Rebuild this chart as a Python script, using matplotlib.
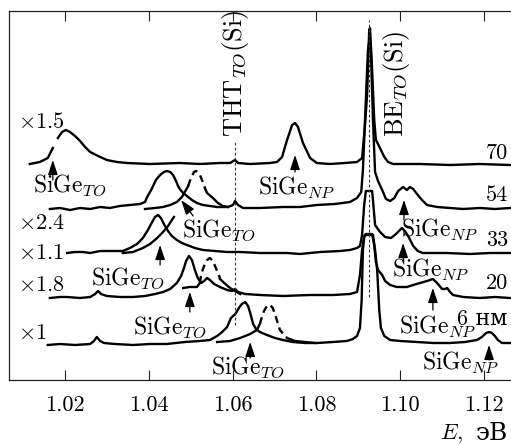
#!/usr/bin/env python3
import numpy as np
import matplotlib
matplotlib.use('Agg')
from matplotlib import pyplot as plt

plt.rcParams['font.family'] = ['cmr10', 'DejaVu Serif']
plt.rcParams['mathtext.fontset'] = 'cm'
plt.rcParams['axes.formatter.use_mathtext'] = True

nan = np.nan

# photon energy (eV) and PL intensity (arb. units above each baseline)
e70 = [1.0116, 1.0140, 1.0159, 1.0171, nan, 1.0183, 1.0193, 1.0202, 1.0212, 1.0224,
       1.0236, 1.0248, 1.0260, 1.0279, 1.0300, 1.0324, 1.0348, 1.0403, 1.0474, 1.0522,
       1.0570, 1.0594, 1.0606, 1.0613, 1.0642, 1.0689, 1.0706, 1.0718, 1.0730, 1.0742,
       1.0749, 1.0756, 1.0768, 1.0785, 1.0801, 1.0832, 1.0868, 1.0897, 1.0909, 1.0916,
       1.0921, 1.0926, 1.0928, 1.0933, 1.0938, 1.0942, 1.0947, 1.0954, 1.0962, 1.0971,
       1.0983, 1.1047, 1.1119, 1.1190, 1.1262]
i70 = [0, 2, 6, 16, nan, 26, 32, 34, 32, 28,
       23, 17, 12, 8, 4, 2, 1, 0, 1, 0,
       1, 1, 4, 1, 0, 1, 2, 7, 24, 39,
       41, 37, 21, 6, 1, 0, 1, 2, 6, 39,
       69, 134, 136, 94, 44, 24, 20, 14, 7, 2,
       0, 0, -1, 0, -1]

e54 = [1.0164, 1.0188, 1.0212, 1.0236, 1.0260, 1.0284, 1.0307, 1.0331, 1.0355, 1.0379,
       1.0391, 1.0396, 1.0403, 1.0408, 1.0417, 1.0427, 1.0436, 1.0443, 1.0451, 1.0458,
       1.0465, 1.0470, 1.0474, 1.0482, 1.0491, 1.0503, 1.0515, 1.0529, 1.0546, 1.0563,
       1.0589, 1.0601, 1.0606, 1.0613, 1.0625, 1.0665, 1.0720, 1.0761, 1.0801, 1.0844,
       1.0880, 1.0897, 1.0907, 1.0911, 1.0918, 1.0923, 1.0927, 1.0930, 1.0935, 1.0940,
       1.0947, 1.0957, 1.0966, 1.0976, 1.0986, 1.0995, 1.1007, 1.1016, 1.1023, 1.1031,
       1.1040, 1.1052, 1.1064, 1.1088, 1.1119, 1.1150, 1.1190, 1.1226, 1.1262]
i54 = [-1, 0, -2, 0, -1, 1, 0, 2, 3, 4,
       6, 11, 16, 20, 28, 33, 36, 37, 36, 33,
       27, 22, 19, 15, 12, 8, 5, 3, 2, 1,
       1, 3, 7, 3, 0, 0, 1, 1, 3, 4,
       6, 10, 16, 38, 108, 158, 170, 158, 88, 36,
       27, 18, 9, 7, 10, 17, 21, 18, 21, 19,
       14, 8, 3, 1, 0, -1, 0, -1, 0]
e54b = [1.0391, 1.0415, 1.0434, 1.0451, 1.0467, 1.0479, 1.0486, 1.0494, 1.0498, 1.0503,
        1.0508, 1.0513, 1.0517, 1.0522, 1.0529, 1.0534, 1.0539, 1.0553, 1.0565, 1.0577,
        1.0589]
i54b = [-1, 0, 1, 3, 6, 11, 16, 22, 27, 32,
        36, 37, 36, 33, 26, 20, 15, 10, 5, 2,
        1]

e33 = [1.0205, 1.0224, 1.0243, 1.0260, 1.0284, 1.0307, 1.0338, 1.0355, 1.0372, 1.0386,
       1.0398, 1.0408, 1.0415, 1.0422, 1.0429, 1.0436, 1.0446, 1.0455, 1.0467, 1.0479,
       1.0491, 1.0510, 1.0529, 1.0558, 1.0587, 1.0618, 1.0665, 1.0730, 1.0761, 1.0809,
       1.0856, 1.0880, 1.0897, 1.0904, 1.0909, 1.0914, 1.0918, 1.0933, 1.0936, 1.0940,
       1.0952, 1.0964, 1.0978, 1.0990, 1.1004, 1.1011, 1.1019, 1.1031, 1.1042, 1.1054,
       1.1112, 1.1167, 1.1214, 1.1262]
i33 = [0, 1, 1, 0, 2, 2, 2, 5, 9, 15,
       23, 31, 36, 38, 35, 29, 22, 17, 13, 10,
       8, 5, 3, 2, 1, 1, 0, 0, -1, 1,
       2, 3, 5, 7, 18, 48, 62, 62, 48, 28,
       21, 16, 15, 19, 25, 22, 17, 7, 2, 0,
       0, -1, 0, 0]
e33b = [1.0338, 1.0362, 1.0386, 1.0403, 1.0420, 1.0434, 1.0446, 1.0455, 1.0460]
i33b = [0, 1, 5, 9, 15, 21, 27, 33, 36]

e20 = [1.0164, 1.0188, 1.0205, 1.0236, 1.0260, 1.0272, 1.0279, 1.0286, 1.0300, 1.0331,
       1.0362, 1.0391, 1.0415, 1.0434, 1.0451, 1.0467, 1.0477, 1.0484, 1.0489, 1.0496,
       1.0503, 1.0510, 1.0517, 1.0525, 1.0532, 1.0539, 1.0546, 1.0556, 1.0570, 1.0587,
       1.0599, 1.0606, 1.0613, 1.0630, 1.0665, 1.0720, 1.0785, 1.0840, 1.0880, 1.0897,
       1.0904, 1.0909, 1.0914, 1.0918, 1.0933, 1.0938, 1.0942, 1.0947, 1.0957, 1.0964,
       1.0976, 1.0992, 1.1016, 1.1031, 1.1047, 1.1064, 1.1071, 1.1078, 1.1088, 1.1100,
       1.1107, 1.1112, 1.1119, 1.1126, 1.1150, 1.1190, 1.1226, 1.1262]
i20 = [-1, 0, 0, -1, 0, 3, 6, 3, 1, 0,
       0, 1, 3, 5, 8, 14, 21, 29, 36, 41,
       37, 27, 19, 14, 16, 19, 17, 13, 10, 7,
       6, 8, 5, 3, 2, 1, 2, 2, 3, 5,
       22, 47, 61, 63, 63, 52, 35, 27, 22, 16,
       12, 10, 10, 12, 14, 16, 17, 18, 14, 8,
       8, 9, 5, 2, 0, -1, 0, -1]
e20b = [1.0482, 1.0498, 1.0515, 1.0522, 1.0525, 1.0532, 1.0539, 1.0546, 1.0553, 1.0560,
        1.0568, 1.0570, 1.0580, 1.0594, 1.0606, 1.0618]
i20b = [9, 10, 10, 14, 23, 31, 37, 39, 36, 29,
        21, 18, 14, 9, 6, 3]

e6 = [1.0159, 1.0188, 1.0224, 1.0260, 1.0269, 1.0276, 1.0284, 1.0293, 1.0319, 1.0362,
      1.0403, 1.0443, 1.0486, 1.0522, 1.0546, 1.0563, 1.0575, 1.0587, 1.0596, 1.0604,
      1.0608, 1.0615, 1.0622, 1.0630, 1.0637, 1.0642, 1.0649, 1.0656, 1.0665, 1.0682,
      1.0701, 1.0720, 1.0744, 1.0773, 1.0801, 1.0840, 1.0873, 1.0887, 1.0897, 1.0904,
      1.0908, 1.0911, 1.0914, 1.0918, 1.0935, 1.0940, 1.0945, 1.0950, 1.0954, 1.0962,
      1.0976, 1.1000, 1.1040, 1.1078, 1.1119, 1.1155, 1.1183, 1.1195, 1.1205, 1.1212,
      1.1219, 1.1226, 1.1233, 1.1243, 1.1262]
i6 = [-2, -1, -2, -1, 2, 6, 2, 0, -1, -2,
      -1, -1, 1, 2, 3, 7, 11, 16, 25, 28,
      30, 35, 39, 41, 37, 30, 19, 14, 11, 8,
      5, 3, 1, 0, 0, 1, 2, 4, 7, 15,
      43, 93, 106, 108, 108, 93, 73, 33, 15, 7,
      3, 2, 1, 0, 0, 1, 3, 6, 10, 11,
      10, 7, 3, 0, 0]
e6b = [1.0563, 1.0594, 1.0618, 1.0642, 1.0658, 1.0665, 1.0670, 1.0675, 1.0682, 1.0689,
       1.0696, 1.0704, 1.0713, 1.0725, 1.0730, 1.0749, 1.0773, 1.0797]
i6b = [1, 2, 5, 9, 13, 19, 26, 32, 37, 38,
       35, 25, 13, 7, 5, 2, 1, 0]

thicknesses = ['70', '54', '33', '20', '6 нм']
factors = ['1.5', '2.4', '1.1', '1.8', '1']
offsets = [216, 172, 127, 83, 37]
e_tht = 1.0606   # THT_TO(Si)
e_be = 1.0926    # BE_TO(Si)

mains = [(e70, i70), (e54, i54), (e33, i33), (e20, i20), (e6, i6)]
# second spectra: (energies, intensities, offset, dashed window)
seconds = [(e54b, i54b, offsets[1], (1.0494, 1.0534)),
           (e33b, i33b, offsets[2], None),
           (e20b, i20b, offsets[3], (1.0522, 1.0570)),
           (e6b, i6b, offsets[4], (1.0665, 1.0730))]

fig = plt.figure(figsize=(5.11, 4.45), dpi=100)
ax = fig.add_axes([9 / 511, 65 / 445, 502 / 511, 369 / 445])

lw = 1.7
for (e, i), off in zip(mains, offsets):
    ax.plot(e, np.array(i, dtype=float) + off, color='k', lw=lw,
            solid_joinstyle='round')

for e, i, off, win in seconds:
    e = np.array(e)
    v = np.array(i, dtype=float) + off
    if win is None:
        ax.plot(e, v, color='k', lw=lw)
        continue
    lo, hi = win
    ax.plot(e[e <= lo], v[e <= lo], color='k', lw=lw)
    m = (e >= lo) & (e <= hi)
    ax.plot(e[m], v[m], color='k', lw=lw, dashes=(3, 2))
    ax.plot(e[e >= hi], v[e >= hi], color='k', lw=lw)

ax.axvline(e_tht, ymin=0.149, ymax=0.65, color='#333333', lw=0.8, dashes=(2.5, 2))
ax.axvline(e_be, ymin=0.225, ymax=0.976, color='#333333', lw=0.8, dashes=(2.5, 2))

fs = 16
lfs = 17
vfs = 19
ax.text(1.0606, 243, r'THT$_{TO}$(Si)', rotation=90, ha='center', va='bottom',
        fontsize=vfs)
ax.text(1.0990, 243, r'BE$_{TO}$(Si)', rotation=90, ha='center', va='bottom',
        fontsize=vfs)

# scale factors on the left, thicknesses on the right
fac_y = [258, 157, 127, 95, 47]
for f, y in zip(factors, fac_y):
    ax.text(1.0088, y, r'$\times$' + f, ha='left', va='center', fontsize=fs)
thick_y = [227, 185, 140, 97, 61]
for t, y in zip(thicknesses, thick_y):
    ax.text(1.1257, y, t, ha='right', va='center', fontsize=fs)

# peak labels with arrows: (text x, text y, tip x, tip y, tail x, tail y, kind)
peaks = [
    (1.0212, 195, 1.0171, 220, 1.0171, 200, 'TO'),
    (1.0754, 192, 1.0749, 225, 1.0749, 208, 'NP'),
    (1.0568, 150, 1.0477, 180, 1.0506, 164, 'TO'),
    (1.1095, 150, 1.1009, 180, 1.1009, 160, 'NP'),
    (1.0350, 102, 1.0427, 135, 1.0427, 115, 'TO'),
    (1.1074, 110, 1.1007, 137, 1.1007, 118, 'NP'),
    (1.0451, 53, 1.0498, 88, 1.0498, 68, 'TO'),
    (1.1090, 53, 1.1078, 92, 1.1078, 70, 'NP'),
    (1.0637, 13, 1.0642, 38, 1.0642, 22, 'TO'),
    (1.1145, 17, 1.1212, 35, 1.1212, 20, 'NP'),
]
for tx, ty, hx, hy, sx, sy, kind in peaks:
    ax.text(tx, ty, r'SiGe$_{%s}$' % kind, ha='center', va='center', fontsize=lfs)
    ax.annotate('', xy=(hx, hy), xytext=(sx, sy),
                arrowprops=dict(arrowstyle='-|>,head_length=0.9,head_width=0.3',
                                color='k', lw=0.9, shrinkA=0, shrinkB=0))

ax.set_xlim(1.00664, 1.12644)
ax.set_ylim(0, 369)
ax.set_xticks([1.02, 1.04, 1.06, 1.08, 1.10, 1.12])
ax.set_xticklabels(['1.02', '1.04', '1.06', '1.08', '1.10', '1.12'])
ax.set_yticks([])
ax.tick_params(axis='x', direction='in', top=True, bottom=True, length=7,
               width=0.8, labelsize=fs, pad=11, colors='#222222', labelcolor='k')
for s in ['left', 'top', 'bottom']:
    ax.spines[s].set_linewidth(0.9)
    ax.spines[s].set_color('#222222')
ax.spines['right'].set_visible(False)

# axis label: italic E in math, Cyrillic unit in a font that has it
ax.text(0.905, -0.146, r'$E$,', transform=ax.transAxes, ha='right',
        va='center', fontsize=fs)
ax.text(0.994, -0.146, 'эВ', transform=ax.transAxes, ha='right', va='center',
        fontsize=18, family=['DejaVu Serif'])

plt.savefig('out.png', dpi=100)
